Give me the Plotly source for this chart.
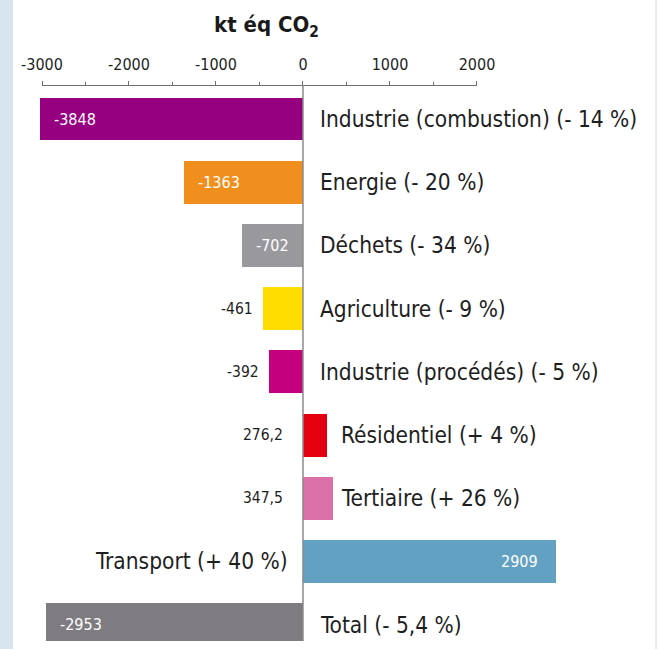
import plotly.graph_objects as go

# ---- data ----
categories = ["Industrie (combustion)", "Energie", "Déchets", "Agriculture",
              "Industrie (procédés)", "Résidentiel", "Tertiaire", "Transport", "Total"]
changes_pct = ["- 14 %", "- 20 %", "- 34 %", "- 9 %", "- 5 %", "+ 4 %", "+ 26 %", "+ 40 %", "- 5,4 %"]
values = [-3848, -1363, -702, -461, -392, 276.2, 347.5, 2909, -2953]
value_labels = ["-3848", "-1363", "-702", "-461", "-392", "276,2", "347,5", "2909", "-2953"]
colors = ["#960080", "#f08f1d", "#99989d", "#ffdd00", "#c4007e",
          "#e3000f", "#db6fa7", "#62a1c2", "#7e7c81"]
tick_values = [-3000, -2000, -1000, 0, 1000, 2000]
tick_labels = ["-3000", "-2000", "-1000", "0", "1000", "2000"]

# ---- layout constants (figure sits inside the page's default 8px body margin) ----
W, H = 642, 633
ML, MR, MT, MB = 32, 0, 77, 0
PW = W - ML - MR
PH = H - MT - MB
X_RANGE = [-3023, 3989]
Y_RANGE = [8.259, -0.538]
FONT = "DejaVu Sans Condensed, Liberation Sans Narrow, Arial Narrow, sans-serif"
BIG = 600  # above this magnitude the value label sits inside the bar

def xfrac(v):
    return (v - X_RANGE[0]) / (X_RANGE[1] - X_RANGE[0])

fig = go.Figure()
fig.add_trace(go.Bar(
    x=values, y=categories, orientation="h",
    marker=dict(color=colors, line=dict(width=0)),
    width=0.68, hoverinfo="skip", showlegend=False,
))
# empty trace to register the top scale axis
fig.add_trace(go.Scatter(x=[None], y=[None], xaxis="x2", yaxis="y",
                         mode="markers", showlegend=False, hoverinfo="skip"))

annotations = []
annotations.append(dict(
    text="<b>kt éq CO<sub>2</sub></b>", xref="paper", yref="paper",
    x=(258 - ML) / PW, y=1 + (MT - 19) / PH, xanchor="center", yanchor="middle",
    showarrow=False, font=dict(family=FONT, size=22, color="#1a1a1a")))

small_pos_max = max(v for v in values if 0 < v <= BIG)
cat_font = dict(family=FONT, size=22.5, color="#1e1e1e")
val_font_in = dict(family=FONT, size=16, color="white")
val_font_out = dict(family=FONT, size=15.5, color="#1e1e1e")

for cat, pct, v, lab in zip(categories, changes_pct, values, value_labels):
    text = f"{cat} ({pct})"
    if v > BIG:
        annotations.append(dict(text=text, x=0, y=cat, xref="x", yref="y",
                                xanchor="right", yanchor="middle", xshift=-13, showarrow=False,
                                font=cat_font))
    elif v > 0:
        annotations.append(dict(text=text, x=small_pos_max, y=cat, xref="x", yref="y",
                                xanchor="left", yanchor="middle", xshift=6, showarrow=False,
                                font=cat_font))
    else:
        annotations.append(dict(text=text, x=0, y=cat, xref="x", yref="y",
                                xanchor="left", yanchor="middle", xshift=15, showarrow=False,
                                font=cat_font))

    if v < -BIG:
        annotations.append(dict(text=lab, x=max(v, X_RANGE[0]), y=cat, xref="x", yref="y",
                                xanchor="left", yanchor="middle", xshift=12, showarrow=False,
                                font=val_font_in))
    elif v > BIG:
        annotations.append(dict(text=lab, x=v, y=cat, xref="x", yref="y",
                                xanchor="right", yanchor="middle", xshift=-16, showarrow=False,
                                font=val_font_in))
    elif v < 0:
        annotations.append(dict(text=lab, x=v, y=cat, xref="x", yref="y",
                                xanchor="right", yanchor="middle", xshift=-8, showarrow=False,
                                font=val_font_out))
    else:
        annotations.append(dict(text=lab, x=0, y=cat, xref="x", yref="y",
                                xanchor="right", yanchor="middle", xshift=-18, showarrow=False,
                                font=val_font_out))

shapes = [
    # continuation of the light-blue left strip inside the figure
    dict(type="rect", xref="paper", yref="paper", x0=-ML / PW, x1=(5 - ML) / PW,
         y0=-MB / PH, y1=1 + MT / PH, fillcolor="#d6e4ed", line=dict(width=0), layer="below"),
    # zero line
    dict(type="line", xref="x", yref="paper", x0=0, x1=0, y0=0, y1=1,
         line=dict(color="#8a8a8a", width=1.5), layer="above"),
]

fig.update_layout(
    width=W, height=H, autosize=False,
    margin=dict(l=ML, r=MR, t=MT, b=MB, pad=0, autoexpand=False),
    paper_bgcolor="white", plot_bgcolor="rgba(0,0,0,0)",
    font=dict(family=FONT, color="#1e1e1e"),
    bargap=0,
    xaxis=dict(range=X_RANGE, visible=False, fixedrange=True, automargin=False),
    xaxis2=dict(range=[tick_values[0], tick_values[-1]],
                domain=[xfrac(tick_values[0]), xfrac(tick_values[-1])],
                anchor="free", position=1, side="top", automargin=False,
                showline=True, linecolor="#6e6e6e", linewidth=1,
                showgrid=False, zeroline=False,
                tickmode="array", tickvals=tick_values, ticktext=tick_labels,
                ticks="outside", ticklen=4, tickcolor="#6e6e6e", tickwidth=1,
                minor=dict(dtick=500, ticks="outside", ticklen=3, tickcolor="#6e6e6e", showgrid=False),
                ticklabelstandoff=5,
                tickfont=dict(family=FONT, size=16, color="#1e1e1e"), fixedrange=True),
    yaxis=dict(range=Y_RANGE, visible=False, categoryorder="array", automargin=False,
               categoryarray=categories, fixedrange=True),
    annotations=annotations,
    shapes=shapes,
)

page_bg = (
    "var r=document.documentElement.style;"
    "r.backgroundColor='#ffffff';"
    "r.backgroundImage='linear-gradient(to right, #d6e4ed 0px, #d6e4ed 13px, "
    "rgba(255,255,255,0) 13px, rgba(255,255,255,0) 655px, #e6eef3 655px, #e6eef3 657px, "
    "rgba(255,255,255,0) 657px)';"
    "r.backgroundRepeat='no-repeat';"
    "r.backgroundSize='658px 100%';"
    "r.backgroundAttachment='fixed';"
    "document.body.style.background='transparent';"
)
fig.write_html("out.html", config={"displayModeBar": False}, post_script=page_bg)
